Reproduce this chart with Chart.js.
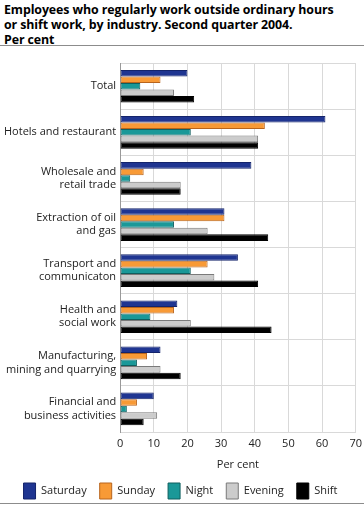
<!DOCTYPE html>
<html lang="en">
<head>
  <meta charset="UTF-8">
  <title>Outside ordinary hours by industry</title>
  <script src="https://cdn.jsdelivr.net/npm/chart.js"></script>
  <style>
    body { margin: 0; background: #fff; font-family: "Open Sans", sans-serif; overflow: hidden; }
    .wrap { width: 364px; height: 505px; position: relative; }
    h1 { font-size: 12.4px; font-weight: bold; line-height: 15px; margin: 0; padding: 2px 0 0 4px; color: #000; letter-spacing: -0.1px; }
    .rule { position: absolute; left: 0; width: 364px; height: 1px; background: #8c8c8c; }
    .box { position: absolute; left: 0; top: 46px; width: 364px; height: 454px; }
  </style>
</head>
<body>
  <div class="wrap">
    <h1>Employees who regularly work outside ordinary hours<br>or shift work, by industry. Second quarter 2004.<br>Per cent</h1>
    <div class="rule" style="top:45px"></div>
    <div class="box"><canvas id="grafico"></canvas></div>
    <div class="rule" style="top:503px"></div>
  </div>

<script>
  // categorias (eixo y)
  var categorias = [
    'Total',
    'Hotels and restaurant',
    ['Wholesale and', 'retail trade'],
    ['Extraction of oil', 'and gas'],
    ['Transport and', 'communicaton'],
    ['Health and', 'social work'],
    ['Manufacturing,', 'mining and quarrying'],
    ['Financial and', 'business activities']
  ];

  var saturday = [20, 61, 39, 31, 35, 17, 12, 10];
  var sunday   = [12, 43, 7, 31, 26, 16, 8, 5];
  var night    = [6, 21, 3, 16, 21, 9, 5, 2];
  var evening  = [16, 41, 18, 26, 28, 21, 12, 11];
  var shift    = [22, 41, 18, 44, 41, 45, 18, 7];

  var ticksX = [0, 10, 20, 30, 40, 50, 60, 70];

  function serie(label, data, cor, borda) {
    return {
      label: label,
      data: data,
      backgroundColor: cor,
      borderColor: borda,
      borderWidth: 1,
      borderSkipped: false,
      barPercentage: 1,
      categoryPercentage: 0.71
    };
  }

  var ctx = document.getElementById('grafico').getContext('2d');

  new Chart(ctx, {
    type: 'bar',
    data: {
      labels: categorias,
      datasets: [
        serie('Saturday', saturday, '#1f3591', '#14246b'),
        serie('Sunday', sunday, '#f89a36', '#b8641c'),
        serie('Night', night, '#1a9898', '#0f5f5f'),
        serie('Evening', evening, '#cccccc', '#7a7a7a'),
        serie('Shift', shift, '#000000', '#000000')
      ]
    },
    options: {
      indexAxis: 'y',
      responsive: true,
      maintainAspectRatio: false,
      animation: false,
      layout: { padding: { left: 0, right: 3, top: 0, bottom: 0 } },
      scales: {
        x: {
          min: 0,
          max: 70,
          afterBuildTicks: function (axis) {
            axis.ticks = ticksX.map(function (v) { return { value: v }; });
          },
          // marcas invisiveis so para afastar os numeros do eixo
          grid: { color: '#d9d9d9', lineWidth: 1, drawTicks: true, tickLength: 4, tickColor: 'rgba(0,0,0,0)' },
          border: { display: true, color: '#d9d9d9' },
          ticks: { color: '#222', font: { family: 'Open Sans', size: 11, lineHeight: 1 }, padding: 2 },
          title: { display: true, text: 'Per cent', color: '#222', font: { family: 'Open Sans', size: 11, lineHeight: 1 }, padding: { top: 8, bottom: 0 } }
        },
        y: {
          grid: { color: '#d9d9d9', lineWidth: 1, drawTicks: false, offset: true },
          border: { display: true, color: '#999' },
          ticks: { color: '#222', font: { family: 'Open Sans', size: 11 }, padding: 4 }
        }
      },
      plugins: {
        legend: {
          position: 'bottom',
          maxHeight: 30,
          labels: {
            boxWidth: 12,
            boxHeight: 16,
            padding: 13,
            color: '#222',
            font: { family: 'Open Sans', size: 11 }
          }
        },
        tooltip: { enabled: false }
      }
    }
  });
</script>
</body>
</html>
